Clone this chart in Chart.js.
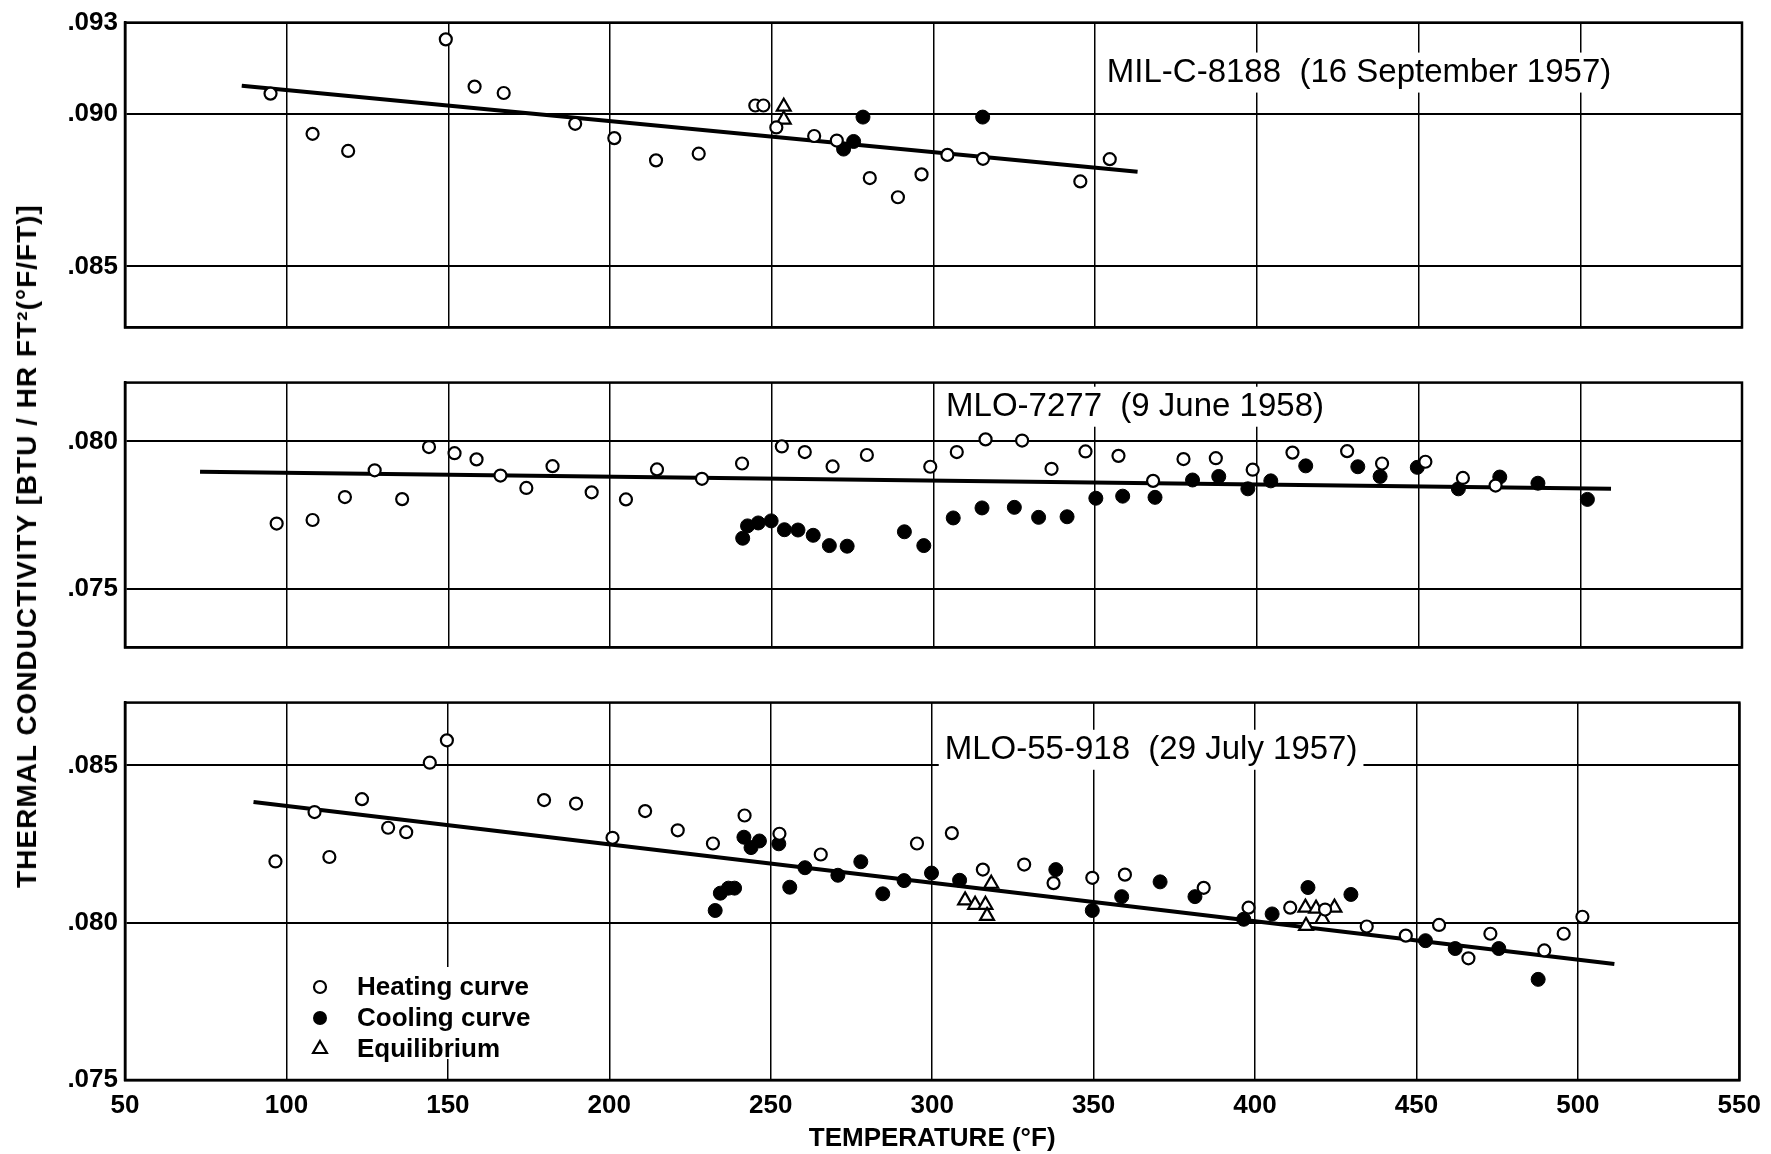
<!DOCTYPE html>
<html>
<head>
<meta charset="utf-8">
<title>Thermal conductivity vs temperature</title>
<script src="https://cdn.jsdelivr.net/npm/chart.js@4.4.1/dist/chart.umd.min.js"></script>
<style>
  html, body { margin: 0; padding: 0; background: #fff; }
  #wrap { position: relative; width: 1771px; height: 1154px; background: #fff; overflow: hidden; }
  #wrap canvas { position: absolute; left: 0; }
  #ytitle {
    position: absolute; left: 27px; top: 546px;
    transform: translate(-50%, -50%) rotate(-90deg);
    font: bold 28px "Liberation Sans", Arial, sans-serif;
    letter-spacing: 1px;
    white-space: nowrap; color: #000;
  }
</style>
</head>
<body>
<div id="wrap">
  <canvas id="p1" width="1771" height="350" style="top:0px"></canvas>
  <canvas id="p2" width="1771" height="310" style="top:360px"></canvas>
  <canvas id="p3" width="1771" height="474" style="top:680px"></canvas>
  <div id="ytitle">THERMAL CONDUCTIVITY [BTU / HR FT²(°F/FT)]</div>
</div>
<script>
// temperature axis (deg F)
const xTicks = [50, 100, 150, 200, 250, 300, 350, 400, 450, 500, 550];
const xLabels = ["50", "100", "150", "200", "250", "300", "350", "400", "450", "500", "550"];

// ---- MIL-C-8188 (16 September 1957)
const yTicks1 = [0.085, 0.090, 0.093];
const yLabels1 = [".085", ".090", ".093"];
const heating1T = [95.0, 108.0, 119.0, 149.2, 158.1, 167.1, 189.2, 201.3, 214.2, 227.4, 244.9, 247.4, 251.4, 263.1, 270.1, 280.3, 289.0, 296.3, 304.3, 315.3, 345.4, 354.5];
const heating1K = [0.09067, 0.08935, 0.08879, 0.09245, 0.09090, 0.09069, 0.08968, 0.08921, 0.08848, 0.08870, 0.09028, 0.09028, 0.08956, 0.08928, 0.08913, 0.08790, 0.08727, 0.08802, 0.08866, 0.08853, 0.08779, 0.08852];
const cooling1T = [272.2, 275.3, 278.2, 315.2];
const cooling1K = [0.08885, 0.08910, 0.08990, 0.08990];
const equil1T = [253.7, 253.7];
const equil1K = [0.09024, 0.08982];
const fit1T = [86.1, 363.1];
const fit1K = [0.09093, 0.08811];

// ---- MLO-7277 (9 June 1958)
const yTicks2 = [0.075, 0.080];
const yLabels2 = [".075", ".080"];
const heating2T = [96.9, 108.0, 118.0, 127.2, 135.7, 144.0, 151.9, 158.7, 166.1, 174.1, 182.2, 194.3, 204.9, 214.5, 228.4, 240.8, 253.1, 260.2, 268.8, 279.4, 299.0, 307.2, 316.1, 327.4, 336.5, 347.0, 357.2, 367.9, 377.3, 387.3, 398.7, 411.0, 427.9, 438.7, 452.1, 463.7, 473.8];
const heating2K = [0.07721, 0.07733, 0.07811, 0.07902, 0.07804, 0.07981, 0.07960, 0.07939, 0.07884, 0.07842, 0.07916, 0.07827, 0.07803, 0.07905, 0.07873, 0.07925, 0.07983, 0.07964, 0.07915, 0.07954, 0.07914, 0.07964, 0.08007, 0.08003, 0.07907, 0.07966, 0.07951, 0.07866, 0.07940, 0.07943, 0.07904, 0.07962, 0.07967, 0.07925, 0.07931, 0.07876, 0.07850];
const cooling2T = [241.0, 242.5, 245.8, 249.8, 253.9, 258.1, 262.8, 267.8, 273.3, 291.0, 297.0, 306.1, 315.0, 325.0, 332.5, 341.3, 350.2, 358.5, 368.5, 380.1, 388.2, 397.2, 404.3, 415.1, 431.2, 438.1, 449.6, 462.3, 475.1, 486.9, 502.2];
const cooling2K = [0.07671, 0.07713, 0.07723, 0.07730, 0.07700, 0.07699, 0.07681, 0.07646, 0.07644, 0.07693, 0.07646, 0.07740, 0.07774, 0.07776, 0.07742, 0.07744, 0.07807, 0.07814, 0.07810, 0.07869, 0.07881, 0.07839, 0.07866, 0.07917, 0.07914, 0.07881, 0.07912, 0.07839, 0.07879, 0.07858, 0.07803];
const fit2T = [73.2, 509.5];
const fit2K = [0.07897, 0.07839];

// ---- MLO-55-918 (29 July 1957)
const yTicks3 = [0.075, 0.080, 0.085];
const yLabels3 = [".075", ".080", ".085"];
const heating3T = [96.6, 108.7, 113.3, 123.4, 131.5, 137.1, 144.4, 149.7, 179.8, 189.7, 201.0, 211.1, 221.2, 232.1, 241.9, 252.7, 265.5, 295.3, 306.1, 315.7, 328.5, 337.6, 349.6, 359.7, 384.1, 398.0, 410.9, 421.7, 434.6, 446.7, 457.0, 466.1, 472.9, 489.6, 495.6, 501.4];
const heating3K = [0.08195, 0.08352, 0.08209, 0.08393, 0.08302, 0.08288, 0.08509, 0.08580, 0.08390, 0.08379, 0.08270, 0.08355, 0.08294, 0.08252, 0.08341, 0.08283, 0.08217, 0.08252, 0.08285, 0.08169, 0.08185, 0.08126, 0.08143, 0.08153, 0.08111, 0.08048, 0.08048, 0.08042, 0.07988, 0.07959, 0.07993, 0.07887, 0.07965, 0.07912, 0.07965, 0.08019];
const cooling3T = [232.8, 234.4, 236.9, 238.8, 241.7, 243.9, 246.5, 252.5, 255.9, 260.6, 270.8, 277.9, 284.7, 291.3, 299.8, 308.5, 338.3, 349.6, 358.7, 370.6, 381.4, 396.5, 405.3, 416.4, 429.7, 452.8, 462.0, 475.5, 487.7];
const cooling3K = [0.08039, 0.08094, 0.08110, 0.08110, 0.08272, 0.08239, 0.08260, 0.08251, 0.08113, 0.08175, 0.08151, 0.08194, 0.08092, 0.08134, 0.08158, 0.08135, 0.08169, 0.08039, 0.08083, 0.08130, 0.08083, 0.08011, 0.08028, 0.08112, 0.08090, 0.07943, 0.07918, 0.07918, 0.07820];
const equil3T = [310.2, 313.3, 316.5, 317.0, 318.3, 415.6, 415.8, 418.9, 420.9, 424.6];
const equil3K = [0.08071, 0.08057, 0.08057, 0.08022, 0.08124, 0.08048, 0.07990, 0.08045, 0.08012, 0.08048];
const fit3T = [89.8, 511.3];
const fit3K = [0.08384, 0.07869];

const keyLabels = ["Heating curve", "Cooling curve", "Equilibrium"];

const FONT = '"Liberation Sans", Arial, sans-serif';
const tickFont = { family: FONT, size: 26, weight: "bold" };

function pts(xs, ys) {
  return xs.map((x, i) => ({ x: x, y: ys[i] }));
}

function heating(xs, ys) {
  return { data: pts(xs, ys), pointStyle: "circle", pointRadius: 6, pointBackgroundColor: "#fff",
           pointBorderColor: "#000", pointBorderWidth: 2.2, showLine: false, order: 0 };
}
function cooling(xs, ys) {
  return { data: pts(xs, ys), pointStyle: "circle", pointRadius: 7, pointBackgroundColor: "#000",
           pointBorderColor: "#000", pointBorderWidth: 1, showLine: false, order: 0 };
}
function equil(xs, ys) {
  return { data: pts(xs, ys), pointStyle: "triangle", pointRadius: 8, pointBackgroundColor: "#fff",
           pointBorderColor: "#000", pointBorderWidth: 2.2, showLine: false, order: 0 };
}
function fit(xs, ys) {
  return { data: pts(xs, ys), showLine: true, borderColor: "#000", borderWidth: 4, pointRadius: 0, order: 1 };
}

function drawKey(ctx, area) {
  const sx = area.left + 195, tx = area.left + 232;
  const rows = [area.bottom - 93, area.bottom - 62, area.bottom - 31];
  ctx.fillStyle = "#fff";
  ctx.fillRect(sx - 14, rows[0] - 20, 250, rows[2] - rows[0] + 30);
  ctx.strokeStyle = "#000";
  ctx.lineWidth = 2.2;
  // open circle
  ctx.beginPath(); ctx.arc(sx, rows[0], 6, 0, Math.PI * 2); ctx.stroke();
  // filled circle
  ctx.fillStyle = "#000";
  ctx.beginPath(); ctx.arc(sx, rows[1], 7, 0, Math.PI * 2); ctx.fill();
  // triangle
  const r = 8;
  ctx.beginPath();
  ctx.moveTo(sx, rows[2] - r);
  ctx.lineTo(sx + r * 0.866, rows[2] + r / 2);
  ctx.lineTo(sx - r * 0.866, rows[2] + r / 2);
  ctx.closePath(); ctx.stroke();
  ctx.font = "bold 26px " + FONT;
  ctx.textAlign = "left";
  ctx.textBaseline = "middle";
  keyLabels.forEach((t, i) => ctx.fillText(t, tx, rows[i] + 1));
}

const extras = {
  id: "extras",
  beforeDatasetsDraw(chart, args, opts) {
    const ctx = chart.ctx, area = chart.chartArea;
    ctx.save();
    if (opts.text) {
      const px = chart.scales.x.getPixelForValue(opts.x);
      const py = chart.scales.y.getPixelForValue(opts.y);
      ctx.font = "33px " + FONT;
      const w = ctx.measureText(opts.text).width;
      ctx.fillStyle = "#fff";
      ctx.fillRect(px - 6, py - 20, w + 12, 40);
      ctx.fillStyle = "#000";
      ctx.textAlign = "left";
      ctx.textBaseline = "middle";
      ctx.fillText(opts.text, px, py);
    }
    if (opts.key) drawKey(ctx, area);
    ctx.restore();
  },
  afterDraw(chart) {
    const ctx = chart.ctx, a = chart.chartArea;
    ctx.save();
    ctx.strokeStyle = "#000";
    ctx.lineWidth = 2.5;
    ctx.strokeRect(a.left, a.top, a.right - a.left, a.bottom - a.top);
    ctx.restore();
  }
};

function panel(id, sets, yMin, yMax, yTicks, yLabels, pad, note, bottomAxis) {
  return new Chart(document.getElementById(id), {
    type: "scatter",
    data: { datasets: sets },
    options: {
      responsive: false,
      animation: false,
      events: [],
      layout: { autoPadding: false, padding: { top: pad[0], bottom: pad[1], left: 0, right: 29 } },
      plugins: {
        legend: { display: false },
        tooltip: { enabled: false },
        extras: note
      },
      scales: {
        x: {
          type: "linear", min: 50, max: 550,
          afterBuildTicks: (s) => { s.ticks = xTicks.map((v) => ({ value: v })); },
          afterFit: (s) => { s.height = bottomAxis ? 74 : 0; },
          grid: { color: "#000", lineWidth: 1.5, drawTicks: false },
          border: { color: "#000", width: 2.5 },
          ticks: { display: bottomAxis, padding: 10, autoSkip: false, maxRotation: 0, color: "#000", font: tickFont,
                   callback: (v, i) => xLabels[i] },
          title: { display: bottomAxis, text: "TEMPERATURE (°F)", color: "#000", font: tickFont, padding: 0 }
        },
        y: {
          type: "linear", min: yMin, max: yMax,
          afterBuildTicks: (s) => { s.ticks = yTicks.map((v) => ({ value: v })); },
          afterFit: (s) => { s.width = 125; },
          grid: { color: "#000", lineWidth: 2, drawTicks: false },
          border: { color: "#000", width: 2.5 },
          ticks: { padding: 7, autoSkip: false, color: "#000", font: tickFont,
                   callback: (v, i) => yLabels[i] }
        }
      }
    },
    plugins: [extras]
  });
}

panel("p1",
  [heating(heating1T, heating1K), cooling(cooling1T, cooling1K), equil(equil1T, equil1K), fit(fit1T, fit1K)],
  0.083, 0.093, yTicks1, yLabels1, [15, 12],
  { text: "MIL-C-8188  (16 September 1957)", x: 353.6, y: 0.09136 }, false);

panel("p2",
  [heating(heating2T, heating2K), cooling(cooling2T, cooling2K), fit(fit2T, fit2K)],
  0.073, 0.082, yTicks2, yLabels2, [11, 10],
  { text: "MLO-7277  (9 June 1958)", x: 303.9, y: 0.08118 }, false);

panel("p3",
  [heating(heating3T, heating3K), cooling(cooling3T, cooling3K), equil(equil3T, equil3K), fit(fit3T, fit3K)],
  0.075, 0.087, yTicks3, yLabels3, [12, 0],
  { text: "MLO-55-918  (29 July 1957)", x: 303.9, y: 0.0855, key: true }, true);
</script>
</body>
</html>
